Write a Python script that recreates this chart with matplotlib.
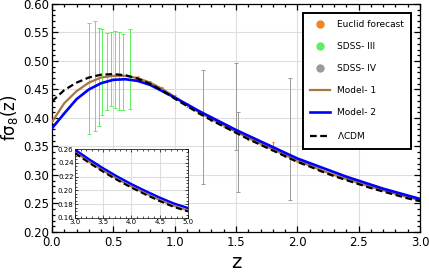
import numpy as np
import matplotlib
matplotlib.use("Agg")
import matplotlib.pyplot as plt
from matplotlib.lines import Line2D
from matplotlib.ticker import MultipleLocator

# model curves
z = [0.0, 0.1, 0.2, 0.3, 0.4, 0.5, 0.6, 0.7, 0.8, 0.9, 1.0,
     1.1, 1.2, 1.3, 1.4, 1.5, 1.6, 1.7, 1.8, 1.9, 2.0,
     2.1, 2.2, 2.3, 2.4, 2.5, 2.6, 2.7, 2.8, 2.9, 3.0]
lcdm = [0.429, 0.449, 0.462, 0.471, 0.476, 0.477, 0.475, 0.469, 0.460, 0.448, 0.434,
        0.421, 0.408, 0.396, 0.385, 0.374, 0.363, 0.353, 0.343, 0.333, 0.323,
        0.315, 0.306, 0.298, 0.291, 0.284, 0.277, 0.271, 0.265, 0.259, 0.254]
model1 = [0.393, 0.426, 0.447, 0.462, 0.471, 0.474, 0.474, 0.470, 0.462, 0.451, 0.437,
          0.423, 0.410, 0.398, 0.387, 0.376, 0.365, 0.355, 0.345, 0.335, 0.325,
          0.317, 0.308, 0.300, 0.293, 0.286, 0.279, 0.273, 0.267, 0.261, 0.256]
model2 = [0.382, 0.408, 0.433, 0.450, 0.461, 0.467, 0.468, 0.465, 0.458, 0.447, 0.436,
          0.424, 0.412, 0.401, 0.390, 0.379, 0.369, 0.359, 0.349, 0.339, 0.329,
          0.321, 0.313, 0.305, 0.297, 0.290, 0.283, 0.276, 0.270, 0.264, 0.258]

# inset range 3..5
z_in = [3.0, 3.25, 3.5, 3.75, 4.0, 4.25, 4.5, 4.75, 5.0]
lcdm_in = [0.254, 0.240, 0.227, 0.215, 0.204, 0.194, 0.1845, 0.176, 0.1695]
model1_in = [0.2555, 0.2415, 0.2285, 0.2165, 0.2055, 0.1955, 0.186, 0.1775, 0.171]
model2_in = [0.259, 0.245, 0.232, 0.220, 0.209, 0.199, 0.1895, 0.181, 0.1745]

# data points
z_sdss3 = [0.30, 0.35, 0.38, 0.41, 0.445, 0.48, 0.515, 0.55, 0.58, 0.635]
fs_sdss3 = [0.469, 0.474, 0.472, 0.4805, 0.4815, 0.4855, 0.485, 0.482, 0.4805, 0.486]
err_sdss3 = [0.097, 0.097, 0.086, 0.0755, 0.0675, 0.0645, 0.068, 0.068, 0.0665, 0.070]

z_sdss4 = [1.23, 1.50, 1.52, 1.94]
fs_sdss4 = [0.385, 0.420, 0.341, 0.363]
err_sdss4 = [0.100, 0.077, 0.070, 0.107]

z_euclid = [0.7, 0.8, 0.9, 1.0, 1.1, 1.2, 1.3, 1.4, 1.5, 1.6, 1.7, 1.8, 1.9, 2.0]
fs_euclid = [0.470, 0.462, 0.451, 0.437, 0.423, 0.410, 0.398, 0.387, 0.376, 0.365,
             0.355, 0.352, 0.335, 0.325]
err_euclid = [0.003, 0.003, 0.003, 0.003, 0.003, 0.003, 0.003, 0.003, 0.003, 0.003,
              0.003, 0.006, 0.003, 0.003]

c_euclid = "#F5821F"
c_sdss3 = "#5CF05C"
c_sdss4 = "#9A9A9A"
c_m1 = "#A8773F"
c_m2 = "#0000FF"


def style_frame(ax, size, minor_len, major_len, width):
    ax.tick_params(which="both", direction="in", top=True, right=True,
                   labelsize=size, width=width, pad=2)
    ax.tick_params(which="major", length=major_len)
    ax.tick_params(which="minor", length=minor_len)
    ax.grid(True, which="major", color="#DDDDDD", lw=0.8, zorder=0)
    for s in ax.spines.values():
        s.set_linewidth(width)


fig = plt.figure(figsize=(4.29, 2.74), dpi=100)
ax = fig.add_axes([0.1212, 0.1533, 0.8578, 0.8321])

ax.errorbar(z_sdss3, fs_sdss3, yerr=err_sdss3, fmt="none", ecolor=c_sdss3,
            elinewidth=0.7, capsize=1.5, capthick=0.7, zorder=2)
ax.errorbar(z_sdss4, fs_sdss4, yerr=err_sdss4, fmt="none", ecolor=c_sdss4,
            elinewidth=0.7, capsize=1.5, capthick=0.7, zorder=2)
ax.errorbar(z_euclid, fs_euclid, yerr=err_euclid, fmt="none", ecolor=c_euclid,
            elinewidth=0.8, capsize=1.0, capthick=0.8, zorder=2)

ax.plot(z, model1, color=c_m1, lw=1.6, zorder=3)
ax.plot(z, model2, color=c_m2, lw=1.9, zorder=4)
ax.plot(z, lcdm, color="black", lw=1.6, ls=(0, (3, 1.6)), zorder=5)

ax.set_xlim(0, 3)
ax.set_ylim(0.2, 0.6)
ax.xaxis.set_major_locator(MultipleLocator(0.5))
ax.xaxis.set_minor_locator(MultipleLocator(0.1))
ax.yaxis.set_major_locator(MultipleLocator(0.05))
ax.yaxis.set_minor_locator(MultipleLocator(0.01))
ax.xaxis.set_major_formatter(lambda v, p: f"{v:.1f}")
ax.yaxis.set_major_formatter(lambda v, p: f"{v:.2f}")
style_frame(ax, 8.5, 2, 4, 0.9)
ax.tick_params(axis="x", pad=3)
ax.set_xlabel("z", fontsize=14, labelpad=3)
ax.set_ylabel(r"f$\mathregular{\sigma_8}$(z)", fontsize=12, labelpad=2)

handles = [
    Line2D([], [], ls="none", marker="o", ms=5, color=c_euclid),
    Line2D([], [], ls="none", marker="o", ms=5, color=c_sdss3),
    Line2D([], [], ls="none", marker="o", ms=5, color=c_sdss4),
    Line2D([], [], color=c_m1, lw=1.6),
    Line2D([], [], color=c_m2, lw=1.9),
    Line2D([], [], color="black", lw=1.6, ls=(0, (3, 1.6))),
]
labels = ["Euclid forecast", "SDSS- III", "SDSS- IV", "Model- 1", "Model- 2", r"$\Lambda$CDM"]
leg = ax.legend(handles, labels, loc="upper right", bbox_to_anchor=(0.989, 0.982),
                fontsize=6.5, labelspacing=1.45, handlelength=2.2, handletextpad=0.8,
                borderpad=0.8, fancybox=False, framealpha=1, edgecolor="black")
leg.get_frame().set_linewidth(1.4)
leg.set_zorder(10)

# inset
axin = fig.add_axes([0.1748, 0.2044, 0.2634, 0.2518])
axin.plot(z_in, model1_in, color=c_m1, lw=1.4, zorder=3)
axin.plot(z_in, model2_in, color=c_m2, lw=1.7, zorder=4)
axin.plot(z_in, lcdm_in, color="black", lw=1.5, ls=(0, (3, 1.6)), zorder=5)
axin.set_xlim(3, 5)
axin.set_ylim(0.16, 0.26)
axin.xaxis.set_major_locator(MultipleLocator(0.5))
axin.xaxis.set_minor_locator(MultipleLocator(0.1))
axin.yaxis.set_major_locator(MultipleLocator(0.02))
axin.yaxis.set_minor_locator(MultipleLocator(0.005))
axin.xaxis.set_major_formatter(lambda v, p: f"{v:.1f}")
axin.yaxis.set_major_formatter(lambda v, p: f"{v:.2f}")
style_frame(axin, 5, 1.2, 2.2, 0.5)
axin.tick_params(pad=1)

fig.savefig("out.png", dpi=100)
